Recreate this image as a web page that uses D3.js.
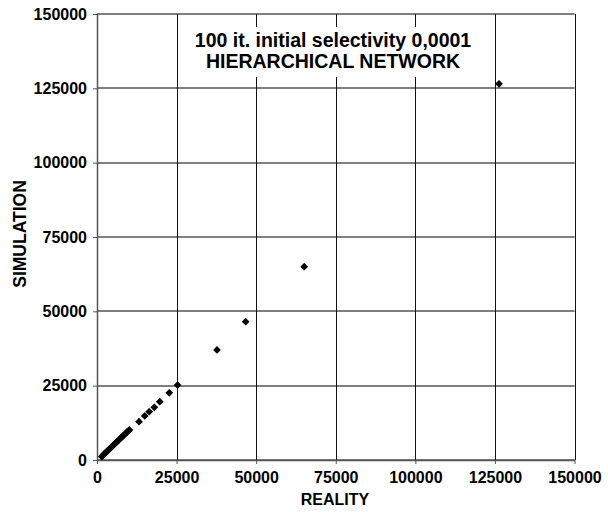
<!DOCTYPE html>
<html>
<head>
<meta charset="utf-8">
<script src="https://cdn.jsdelivr.net/npm/d3@7/dist/d3.min.js"></script>
<style>
html, body { margin: 0; padding: 0; background: #fff; }
svg { display: block; font-family: "Liberation Sans", Arial, sans-serif; }
</style>
</head>
<body>
<svg id="chart" width="608" height="512"></svg>
<script>
const reality = [1500, 1900, 2300, 2700, 3100, 3500, 3900, 4300, 4700, 5100, 5500, 5900, 6300, 6700, 7100, 7500, 7900, 8300, 8700, 9100, 9500, 9900, 10200, 13200, 15000, 16400, 18000, 19700, 22700, 25300, 37700, 46700, 65100, 126300];
const simulation = [1150, 1600, 2050, 2450, 2850, 3250, 3700, 4100, 4500, 4950, 5350, 5750, 6150, 6600, 7000, 7400, 7800, 8200, 8650, 9050, 9450, 9850, 10100, 12900, 14800, 16250, 17700, 19600, 22600, 25200, 37000, 46500, 65000, 126500];
const xTicks = [0, 25000, 50000, 75000, 100000, 125000, 150000];
const yTicks = [0, 25000, 50000, 75000, 100000, 125000, 150000];
const titleLines = ["100 it. initial selectivity 0,0001", "HIERARCHICAL NETWORK"];
const xLabel = "REALITY";
const yLabel = "SIMULATION";

(function () {
const svg = d3.select("#chart");
const pLeft = 97, pRight = 574.5, pTop = 14, pBottom = 460;

const x = d3.scaleLinear().domain([0, 150000]).range([pLeft, pRight]);
const y = d3.scaleLinear().domain([0, 150000]).range([pBottom, pTop]);

// grid lines
svg.append("g").selectAll("line").data(yTicks).join("line")
  .attr("x1", pLeft).attr("x2", pRight)
  .attr("y1", d => Math.round(y(d))).attr("y2", d => Math.round(y(d)))
  .attr("stroke", "#555").attr("stroke-width", 1.6);
svg.append("g").selectAll("line").data(xTicks).join("line")
  .attr("x1", d => Math.round(x(d)) + 0.5).attr("x2", d => Math.round(x(d)) + 0.5)
  .attr("y1", pTop).attr("y2", pBottom)
  .attr("stroke", "#111").attr("stroke-width", 1);

// axes
const xAxis = d3.axisBottom(x).tickValues(xTicks).tickSize(4).tickSizeOuter(0).tickPadding(8).tickFormat(d3.format("d"));
const yAxis = d3.axisLeft(y).tickValues(yTicks).tickSize(4).tickSizeOuter(0).tickPadding(6).tickFormat(d3.format("d"));

const gx = svg.append("g").attr("transform", `translate(0,${pBottom})`).call(xAxis);
const gy = svg.append("g").attr("transform", `translate(${pLeft},0)`).call(yAxis);
[gx, gy].forEach(g => {
  g.select(".domain").attr("stroke", "#555").attr("stroke-width", 1.5);
  g.selectAll(".tick line").attr("stroke", "#555");
  g.selectAll(".tick text").attr("fill", "#000").style("font-size", "16px").style("font-weight", "bold")
    .style("font-family", '"Liberation Sans", Arial, sans-serif');
});

// title box
const tb = svg.append("g");
tb.append("rect").attr("x", 188).attr("y", 27).attr("width", 292).attr("height", 50).attr("fill", "#fff");
tb.selectAll("text").data(titleLines).join("text")
  .attr("x", 333).attr("y", (d, i) => 47 + i * 21)
  .attr("text-anchor", "middle")
  .style("font-size", "19.5px").style("font-weight", "bold").attr("fill", "#000")
  .text(d => d);

// axis titles
svg.append("text").attr("x", 335).attr("y", 505).attr("text-anchor", "middle")
  .style("font-size", "16px").style("font-weight", "bold").text(xLabel);
svg.append("text").attr("transform", `translate(26,234) rotate(-90)`)
  .attr("text-anchor", "middle")
  .style("font-size", "17.5px").style("font-weight", "bold").text(yLabel);

// points
const pts = reality.map((r, i) => [r, simulation[i]]);
svg.append("g").selectAll("path").data(pts).join("path")
  .attr("d", d3.symbol().type(d3.symbolSquare).size(30))
  .attr("transform", d => `translate(${x(d[0])},${y(d[1])}) rotate(45)`)
  .attr("fill", "#000");
})();
</script>
</body>
</html>
